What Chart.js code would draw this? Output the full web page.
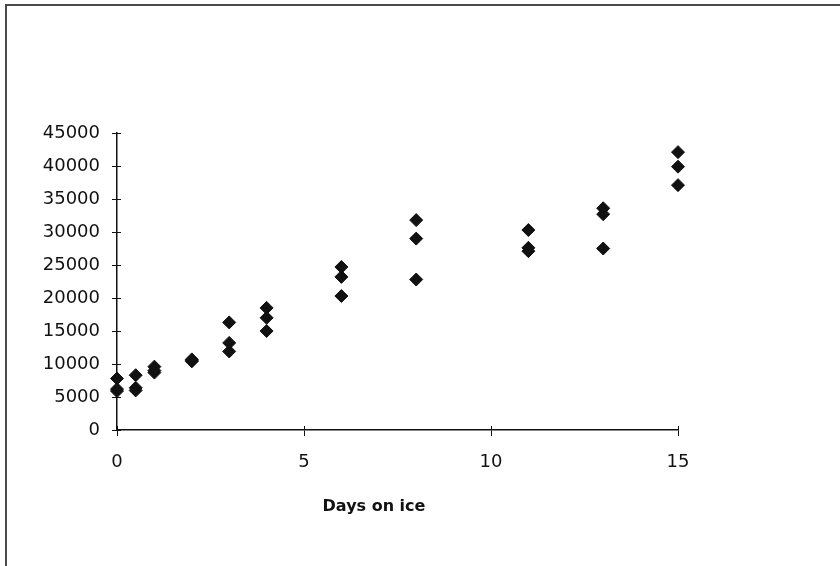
<!DOCTYPE html>
<html>
<head>
<meta charset="utf-8">
<title>Days on ice</title>
<script src="https://cdn.jsdelivr.net/npm/chart.js@4"></script>
<style>
    html, body { margin: 0; padding: 0; background: #fff; }
    #wrap { width: 840px; height: 566px; }
</style>
</head>
<body>
<div id="wrap"><canvas id="ice-chart" width="840" height="566"></canvas></div>
<script>
// Three readings per sampling day
const days = [0, 0.5, 1, 2, 3, 4, 6, 8, 11, 13, 15];
const readingA = [7800, 8300, 9600, 10500, 16300, 18500, 24700, 31800, 30300, 33600, 42100];
const readingB = [6200, 6400, 8700, 10700, 13200, 17000, 23200, 29000, 27600, 32700, 39900];
const readingC = [5900, 6000, 9000, 10400, 11900, 15000, 20300, 22800, 27100, 27500, 37100];

const xTicks = [0, 5, 10, 15];
const yTicks = [0, 5000, 10000, 15000, 20000, 25000, 30000, 35000, 40000, 45000];
const xTitle = 'Days on ice';

const INK = '#111';
const FONT = { family: '"DejaVu Sans", sans-serif', size: 18 };

function toPoints(values) {
    return days.map((d, i) => ({ x: d, y: values[i] }));
}

const points = [
    ...toPoints(readingA),
    ...toPoints(readingB),
    ...toPoints(readingC)
];

// Outer frame, the inner half of each tick, and the axis title
const decorations = {
    id: 'decorations',
    beforeDraw(chart) {
        const ctx = chart.ctx;
        ctx.save();
        ctx.strokeStyle = '#4a4a4a';
        ctx.lineWidth = 2;
        ctx.beginPath();
        ctx.moveTo(6, 566);
        ctx.lineTo(6, 5);
        ctx.lineTo(840, 5);
        ctx.stroke();
        ctx.restore();
    },
    afterDraw(chart) {
        const ctx = chart.ctx;
        const { x, y } = chart.scales;
        ctx.save();
        ctx.strokeStyle = INK;
        ctx.lineWidth = 1;
        ctx.beginPath();
        xTicks.forEach(v => {
            const px = Math.round(x.getPixelForValue(v)) + 0.5;
            ctx.moveTo(px, y.bottom);
            ctx.lineTo(px, y.bottom - 4);
        });
        yTicks.forEach(v => {
            const py = Math.round(y.getPixelForValue(v)) + 0.5;
            ctx.moveTo(x.left, py);
            ctx.lineTo(x.left + 4, py);
        });
        ctx.stroke();

        ctx.fillStyle = INK;
        ctx.font = `bold 16px ${FONT.family}`;
        ctx.textAlign = 'center';
        ctx.textBaseline = 'middle';
        ctx.fillText(xTitle, 374, 507);
        ctx.restore();
    }
};

new Chart(document.getElementById('ice-chart'), {
    type: 'scatter',
    data: {
        datasets: [{
            data: points,
            pointStyle: 'rectRot',
            pointRadius: 6.5,
            pointHoverRadius: 6.5,
            backgroundColor: INK,
            borderColor: INK,
            borderWidth: 1,
            clip: false
        }]
    },
    options: {
        responsive: false,
        animation: false,
        events: [],
        layout: {
            padding: { left: 0, right: 162, top: 133, bottom: 0 }
        },
        plugins: {
            legend: { display: false },
            tooltip: { enabled: false }
        },
        scales: {
            x: {
                type: 'linear',
                min: 0,
                max: 15,
                afterFit: scale => { scale.height = 136; },
                afterBuildTicks: scale => { scale.ticks = xTicks.map(v => ({ value: v })); },
                border: { display: true, color: INK, width: 1.5 },
                grid: {
                    drawOnChartArea: false,
                    drawTicks: true,
                    tickLength: 6,
                    color: INK
                },
                ticks: {
                    color: INK,
                    font: FONT,
                    padding: 16,
                    maxRotation: 0,
                    callback: v => String(v)
                }
            },
            y: {
                type: 'linear',
                min: 0,
                max: 45000,
                afterFit: scale => { scale.width = 117; },
                afterBuildTicks: scale => { scale.ticks = yTicks.map(v => ({ value: v })); },
                border: { display: true, color: INK, width: 1.5 },
                grid: {
                    drawOnChartArea: false,
                    drawTicks: true,
                    tickLength: 5,
                    color: INK
                },
                ticks: {
                    color: INK,
                    font: FONT,
                    padding: 12,
                    callback: v => String(v)
                }
            }
        }
    },
    plugins: [decorations]
});
</script>
</body>
</html>
